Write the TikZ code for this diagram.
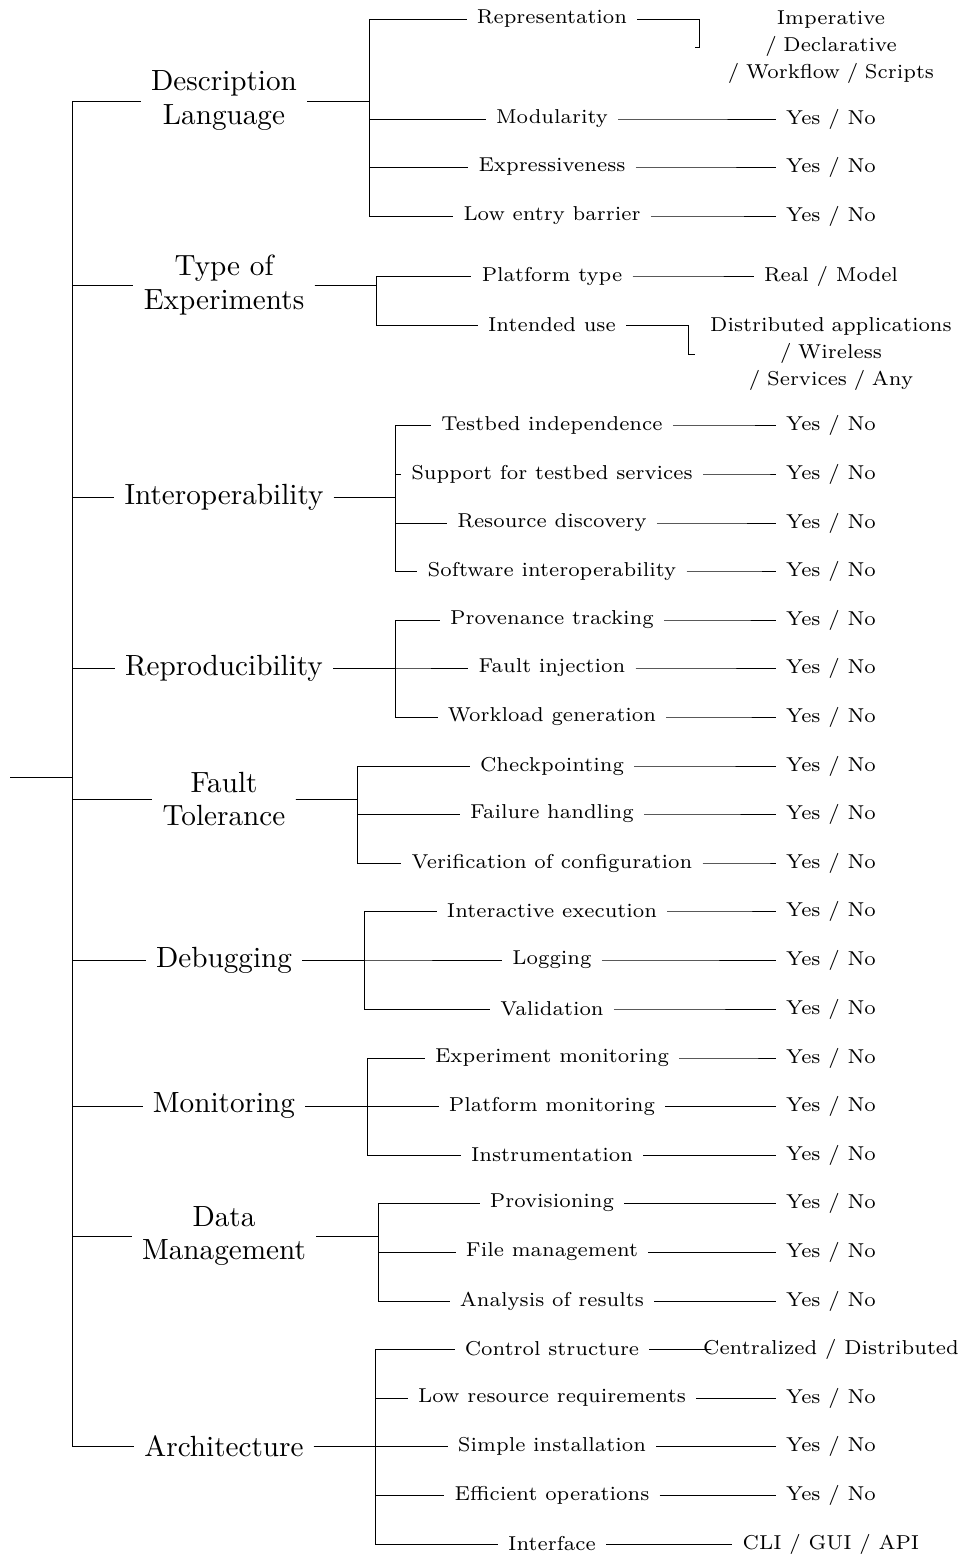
\documentclass[tikz,border=0pt]{standalone}
\usepackage{tikz}
\usetikzlibrary{positioning}

\tikzset{
  cat/.style={font=\fontsize{9.9}{11.5}\selectfont, align=center},
  crit/.style={font=\fontsize{6.82}{9.15}\selectfont},
  val/.style={font=\fontsize{6.82}{9.15}\selectfont},
  multival/.style={val, align=center, text width=85pt}
}

\begin{document}
\begin{tikzpicture}[x=0.339pt, y=-0.339pt, line width=0.3pt]
  \useasboundingbox (0,0) rectangle (960,1555);

  % Root of the tree
  \coordinate (root) at (10,777);

  % Categories
  \node[cat] (dl) at (224,101) {Description\\Language};
  \node[cat] (toe) at (224,285) {Type of\\Experiments};
  \node[cat] (interop) at (224,497) {Interoperability};
  \node[cat] (repro) at (224,668) {Reproducibility};
  \node[cat] (ft) at (224,799) {Fault\\Tolerance};
  \node[cat] (debug) at (224,960) {Debugging};
  \node[cat] (monit) at (224,1106) {Monitoring};
  \node[cat] (dm) at (224,1236) {Data\\Management};
  \node[cat] (arch) at (224,1446) {Architecture};

  % Criteria with a Yes / No value
  \foreach \c/\t/\y in {mod/Modularity/119, expr/Expressiveness/167,
      entry/Low entry barrier/216, indep/Testbed independence/425,
      serv/Support for testbed services/474, disc/Resource discovery/523,
      soft/Software interoperability/571, prov/Provenance tracking/620,
      finj/Fault injection/668, work/Workload generation/717,
      check/Checkpointing/766, fail/Failure handling/814,
      verif/Verification of configuration/863, inter/Interactive execution/911,
      log/Logging/960, valid/Validation/1009,
      expmon/Experiment monitoring/1058, platmon/Platform monitoring/1106,
      instr/Instrumentation/1155, provis/Provisioning/1203,
      file/File management/1252, anal/Analysis of results/1301,
      lowres/Low resource requirements/1398, inst/Simple installation/1446,
      eff/Efficient operations/1495} {
    \node[crit] (\c) at (552,\y) {\t};
    \node[val] (y\c) at (831,\y) {Yes / No};
    \draw (\c.east) -- ++(62,0) |- (y\c.west);
  }

  % Criteria with other values
  \node[crit] (rep) at (552,19) {Representation};
  \node[multival] (imp) at (831,47) {Imperative\\/ Declarative\\/ Workflow / Scripts};
  \node[crit] (plat) at (552,276) {Platform type};
  \node[val] (real) at (831,276) {Real / Model};
  \node[crit] (use) at (552,325) {Intended use};
  \node[multival] (dist) at (831,354) {Distributed applications\\/ Wireless\\/ Services / Any};
  \node[crit] (ctrl) at (552,1349) {Control structure};
  \node[val] (cent) at (831,1349) {Centralized / Distributed};
  \node[crit] (iface) at (552,1544) {Interface};
  \node[val] (cli) at (831,1544) {CLI / GUI / API};

  \foreach \c/\v in {rep/imp, plat/real, use/dist, ctrl/cent, iface/cli}
    \draw (\c.east) -- ++(62,0) |- (\v.west);

  % Branches from the categories
  \foreach \c in {rep,mod,expr,entry} \draw (dl.east) -- ++(62,0) |- (\c.west);
  \foreach \c in {plat,use} \draw (toe.east) -- ++(62,0) |- (\c.west);
  \foreach \c in {indep,serv,disc,soft} \draw (interop.east) -- ++(62,0) |- (\c.west);
  \foreach \c in {prov,finj,work} \draw (repro.east) -- ++(62,0) |- (\c.west);
  \foreach \c in {check,fail,verif} \draw (ft.east) -- ++(62,0) |- (\c.west);
  \foreach \c in {inter,log,valid} \draw (debug.east) -- ++(62,0) |- (\c.west);
  \foreach \c in {expmon,platmon,instr} \draw (monit.east) -- ++(62,0) |- (\c.west);
  \foreach \c in {provis,file,anal} \draw (dm.east) -- ++(62,0) |- (\c.west);
  \foreach \c in {ctrl,lowres,inst,eff,iface} \draw (arch.east) -- ++(62,0) |- (\c.west);

  % Branches from the root
  \foreach \c in {dl,toe,interop,repro,ft,debug,monit,dm,arch}
    \draw (root) -- ++(62,0) |- (\c.west);
\end{tikzpicture}
\end{document}
